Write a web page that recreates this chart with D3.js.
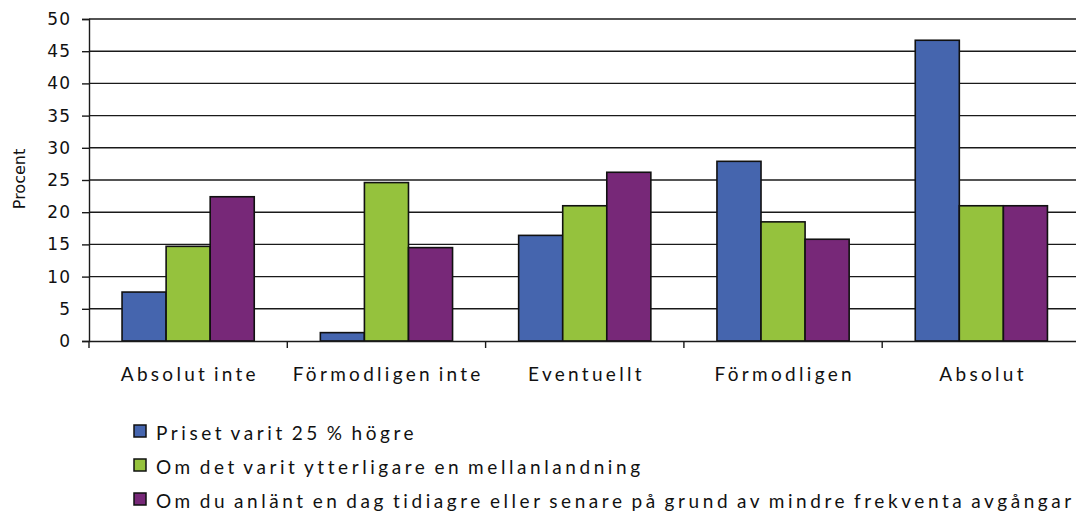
<!DOCTYPE html>
<html>
<head>
<meta charset="utf-8">
<script src="https://cdn.jsdelivr.net/npm/d3@7"></script>
<style>
  body { margin: 0; background: #fff; }
  .cat, .leg { font-family: Lato, "Open Sans", sans-serif; font-size: 19px; letter-spacing: 3.3px; word-spacing: -2.5px; fill: #111; }
  .leg { letter-spacing: 3.57px; }
  .ytick text { font-family: "DejaVu Sans", Verdana, sans-serif; font-size: 17px; letter-spacing: 1px; fill: #111; }
</style>
</head>
<body>
<div id="chart"></div>
<script>
// Chart data
var categories = ["Absolut inte", "Förmodligen inte", "Eventuellt", "Förmodligen", "Absolut"];
var seriesNames = [
    "Priset varit 25 % högre",
    "Om det varit ytterligare en mellanlandning",
    "Om du anlänt en dag tidiagre eller senare på grund av mindre frekventa avgångar"
];
var priceValues = [7.6, 1.3, 16.4, 27.9, 46.7];
var stopValues = [14.7, 24.6, 21.0, 18.5, 21.0];
var dayValues = [22.4, 14.5, 26.2, 15.8, 21.0];
var yTicks = [0, 5, 10, 15, 20, 25, 30, 35, 40, 45, 50];
var colors = ["#4565ae", "#95c23d", "#772878"];

var seriesValues = [priceValues, stopValues, dayValues];

// Dimensions
var totalWidth = 1076, totalHeight = 513;
var margin = { top: 19, left: 89 };
var plotWidth = 991.5;
var plotHeight = 322;

var svg = d3.select("#chart")
    .append("svg")
    .attr("width", totalWidth)
    .attr("height", totalHeight);

var g = svg.append("g")
    .attr("transform", "translate(" + margin.left + "," + margin.top + ")");

// Scales
var x = d3.scaleBand().domain(categories).range([0, plotWidth]).padding(0);
var xInner = d3.scaleBand().domain([0, 1, 2]).range([0, x.bandwidth()])
    .paddingInner(0).paddingOuter(0.75);
var y = d3.scaleLinear().domain([0, 50]).range([plotHeight, 0]);

// Gridlines
g.selectAll(".grid")
    .data(yTicks.slice(1))
    .enter().append("line")
    .attr("x1", 0).attr("x2", plotWidth)
    .attr("y1", function (d) { return y(d) }).attr("y2", function (d) { return y(d) })
    .attr("stroke", "#1a1a1a")
    .attr("stroke-width", 1.4);

// Y axis
var yAxis = d3.axisLeft(y).tickValues(yTicks).tickSize(7).tickPadding(11);
g.append("g")
    .attr("class", "ytick")
    .call(yAxis)
    .call(function (s) {
        s.select(".domain").attr("stroke", "#1a1a1a").attr("stroke-width", 1.4);
        s.selectAll(".tick line").attr("stroke", "#1a1a1a").attr("stroke-width", 1.4);
    });

// y axis label
g.append("text")
    .attr("transform", "translate(" + (-64) + "," + (y(25) - 1) + ") rotate(-90)")
    .style("text-anchor", "middle")
    .style("font-family", "DejaVu Sans, Verdana, sans-serif")
    .style("font-size", "16px")
    .style("fill", "#111")
    .text("Procent");

// Bars
var groups = g.selectAll(".group")
    .data(categories)
    .enter().append("g")
    .attr("transform", function (d) { return "translate(" + x(d) + ",0)" });

groups.selectAll("rect")
    .data(function (d, i) { return seriesValues.map(function (vals, s) { return { s: s, v: vals[i] } }) })
    .enter().append("rect")
    .attr("x", function (d) { return xInner(d.s) })
    .attr("width", xInner.bandwidth())
    .attr("y", function (d) { return y(d.v) })
    .attr("height", function (d) { return plotHeight - y(d.v) })
    .attr("fill", function (d) { return colors[d.s] })
    .attr("stroke", "#111")
    .attr("stroke-width", 1.6);

// X axis
var xAxis = d3.axisBottom(x).tickSize(0).tickFormat("");
g.append("g")
    .attr("transform", "translate(0," + plotHeight + ")")
    .call(xAxis)
    .call(function (s) {
        s.select(".domain").attr("stroke", "#1a1a1a").attr("stroke-width", 1.4);
    });

// category boundary ticks
g.selectAll(".xtick")
    .data(categories.concat([null]))
    .enter().append("line")
    .attr("x1", function (d, i) { return i * x.step() })
    .attr("x2", function (d, i) { return i * x.step() })
    .attr("y1", plotHeight).attr("y2", plotHeight + 7)
    .attr("stroke", "#1a1a1a")
    .attr("stroke-width", 1.4);

// Category labels
g.selectAll(".cat")
    .data(categories)
    .enter().append("text")
    .attr("class", "cat")
    .attr("x", function (d) { return x(d) + x.bandwidth() / 2 + 1.7 })
    .attr("y", plotHeight + 40)
    .style("text-anchor", "middle")
    .text(function (d) { return d });

// Legend
var legend = svg.selectAll(".legendItem")
    .data(seriesNames)
    .enter().append("g")
    .attr("transform", function (d, i) { return "translate(134," + (425 + i * 34) + ")" });

legend.append("rect")
    .attr("width", 12).attr("height", 12)
    .attr("fill", function (d, i) { return colors[i] })
    .attr("stroke", "#111")
    .attr("stroke-width", 1.5);

legend.append("text")
    .attr("class", "leg")
    .attr("x", 22)
    .attr("y", 15)
    .text(function (d) { return d });
</script>
</body>
</html>
